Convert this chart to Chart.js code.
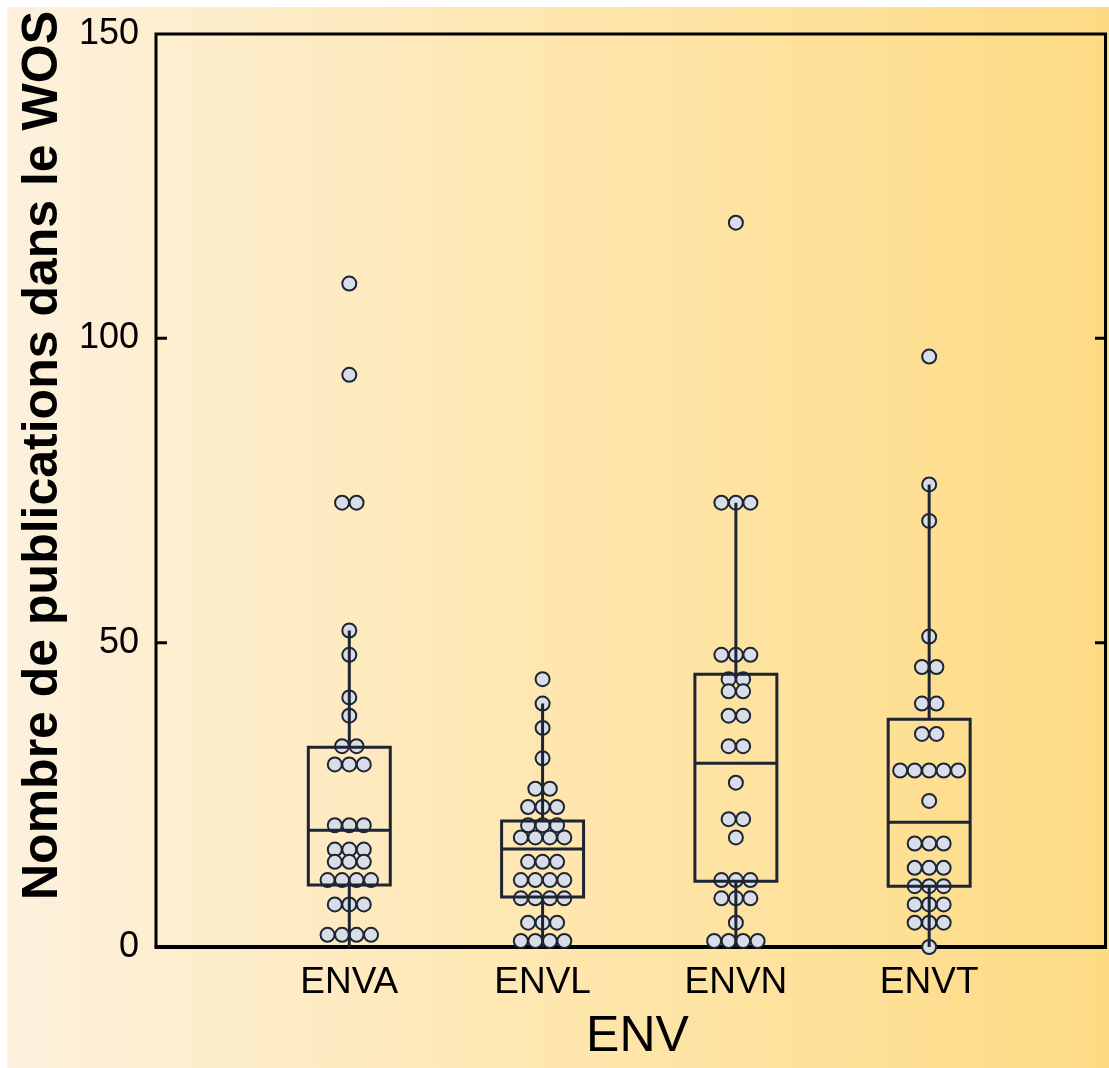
<!DOCTYPE html>
<html>
<head>
<meta charset="utf-8">
<script src="https://cdn.jsdelivr.net/npm/chart.js@4.4.1/dist/chart.umd.min.js"></script>
<style>
html,body{margin:0;padding:0;background:#fff;}
canvas{display:block;}
</style>
</head>
<body>
<canvas id="c" width="1109" height="1068"></canvas>
<script>
// ---- data ----
const categories = ['ENVA', 'ENVL', 'ENVN', 'ENVT'];
const valuesENVA = [109, 94, 73, 73, 52, 48, 41, 38, 33, 33, 30, 30, 30, 20, 20, 20, 16, 16, 16, 14, 14, 14, 11, 11, 11, 11, 7, 7, 7, 2, 2, 2, 2];
const valuesENVL = [44, 40, 36, 31, 26, 26, 23, 23, 23, 20, 20, 20, 18, 18, 18, 18, 14, 14, 14, 11, 11, 11, 11, 8, 8, 8, 8, 4, 4, 4, 1, 1, 1, 1];
const valuesENVN = [119, 73, 73, 73, 48, 48, 48, 44, 44, 42, 42, 38, 38, 33, 33, 27, 21, 21, 18, 11, 11, 11, 8, 8, 8, 4, 1, 1, 1, 1];
const valuesENVT = [97, 76, 70, 51, 46, 46, 40, 40, 35, 35, 29, 29, 29, 29, 29, 24, 17, 17, 17, 13, 13, 13, 10, 10, 10, 7, 7, 7, 4, 4, 4, 0];
const q1 = [10.2, 8.2, 10.8, 10.0];
const median = [19.2, 16.1, 30.2, 20.5];
const q3 = [32.8, 20.7, 44.8, 37.4];
const whiskerLow = [0, 0, 0, 0];
const whiskerHigh = [52, 40, 73, 76];
const yTicks = [0, 50, 100, 150];
const xTitle = 'ENV';
const yTitle = 'Nombre de publications dans le WOS';

// ---- layout helpers (style only) ----
const FONT = '"Liberation Sans", Arial, Helvetica, sans-serif';
const INK = '#1d2532';
const DOT_FILL = '#d8dde8';
const DOT_GAP = 0.075;     // horizontal gap between stacked dots, in x-axis units
const BOX_HALF = 0.212;    // half box width, in x-axis units

const groups = [valuesENVA, valuesENVL, valuesENVN, valuesENVT];

// beeswarm-style stacking: equal values side by side, centred on the category
function swarm(values, catIndex) {
  const counts = {};
  values.forEach(v => { counts[v] = (counts[v] || 0) + 1; });
  const seen = {};
  return values.map(v => {
    const i = seen[v] || 0; seen[v] = i + 1;
    const n = counts[v];
    return { x: catIndex + 1 + (i - (n - 1) / 2) * DOT_GAP, y: v };
  });
}

const datasets = groups.map((vals, k) => ({
  label: categories[k],
  data: swarm(vals, k),
  pointRadius: 7,
  pointHoverRadius: 7,
  pointBackgroundColor: DOT_FILL,
  pointBorderColor: INK,
  pointBorderWidth: 2,
  showLine: false,
  clip: false
}));

const backgroundPlugin = {
  id: 'bg',
  beforeDraw(chart) {
    const ctx = chart.ctx;
    ctx.save();
    ctx.fillStyle = '#ffffff';
    ctx.fillRect(0, 0, chart.width, chart.height);
    const g = ctx.createLinearGradient(7, 0, chart.width, 0);
    g.addColorStop(0, '#fdf1dd');
    g.addColorStop(0.5, '#fee6ae');
    g.addColorStop(1, '#fddb84');
    ctx.fillStyle = g;
    ctx.fillRect(7, 7, chart.width - 7, chart.height - 7);
    ctx.restore();
  },
  afterLayout(chart) {
    const ys = chart.scales.y, xs = chart.scales.x;
    if (!ys._titlePatched) {
      const orig = ys.drawTitle;
      ys.drawTitle = function () {
        const c = this.ctx; c.save(); c.translate(0, -35); orig.apply(this, arguments); c.restore();
      };
      ys._titlePatched = true;
    }
    if (!xs._titlePatched) {
      const origX = xs.drawTitle;
      xs.drawTitle = function () {
        const c = this.ctx; c.save(); c.translate(6, 0); origX.apply(this, arguments); c.restore();
      };
      xs._titlePatched = true;
    }
  },
  beforeDatasetsDraw(chart) {
    const { ctx, chartArea: a, scales } = chart;
    const ys = scales.y;
    ctx.save();
    ctx.strokeStyle = '#000';
    ctx.lineCap = 'butt';
    ctx.lineWidth = 3;
    ctx.beginPath();
    ctx.moveTo(a.left, a.top); ctx.lineTo(a.right, a.top);
    ctx.moveTo(a.left, a.top - 1.5); ctx.lineTo(a.left, a.bottom);
    ctx.moveTo(a.right - 1.5, a.top - 1.5); ctx.lineTo(a.right - 1.5, a.bottom);
    ctx.stroke();
    ctx.lineWidth = 4;
    ctx.beginPath();
    ctx.moveTo(a.left - 1.5, a.bottom); ctx.lineTo(a.right, a.bottom);
    ctx.stroke();
    ctx.lineWidth = 3;
    ctx.beginPath();
    yTicks.forEach(t => {
      if (t === 0 || t === 150) return;
      const py = ys.getPixelForValue(t);
      ctx.moveTo(a.left, py); ctx.lineTo(a.left + 11, py);
      ctx.moveTo(a.right - 12, py); ctx.lineTo(a.right, py);
    });
    ctx.stroke();
    ctx.restore();
  },
  afterDatasetsDraw(chart) {
    const { ctx, scales } = chart;
    const xs = scales.x, ys = scales.y;
    ctx.save();
    ctx.strokeStyle = INK;
    ctx.lineWidth = 3;
    categories.forEach((c, k) => {
      const cx = xs.getPixelForValue(k + 1);
      const l = xs.getPixelForValue(k + 1 - BOX_HALF);
      const r = xs.getPixelForValue(k + 1 + BOX_HALF);
      const yq1 = ys.getPixelForValue(q1[k]);
      const yq3 = ys.getPixelForValue(q3[k]);
      const ym = ys.getPixelForValue(median[k]);
      const yl = ys.getPixelForValue(whiskerLow[k]);
      const yh = ys.getPixelForValue(whiskerHigh[k]);
      ctx.beginPath();
      ctx.rect(l, yq3, r - l, yq1 - yq3);
      ctx.moveTo(l, ym); ctx.lineTo(r, ym);
      ctx.moveTo(cx, yq3); ctx.lineTo(cx, yh);
      ctx.moveTo(cx, yq1); ctx.lineTo(cx, yl);
      ctx.stroke();
    });
    ctx.restore();
  }
};

new Chart(document.getElementById('c'), {
  type: 'scatter',
  data: { datasets },
  options: {
    responsive: false,
    animation: false,
    events: [],
    layout: { autoPadding: false, padding: { top: 34, right: 2, left: 8, bottom: 0 } },
    plugins: { legend: { display: false }, tooltip: { enabled: false } },
    scales: {
      x: {
        type: 'linear',
        min: 0,
        max: 4.92,
        grid: { display: false, drawTicks: false },
        border: { display: false },
        afterBuildTicks(scale) { scale.ticks = categories.map((c, i) => ({ value: i + 1 })); },
        afterFit(scale) { scale.height = 121; scale.paddingLeft = 0; scale.paddingRight = 0; },
        ticks: {
          padding: 14,
          color: '#000',
          font: { family: FONT, size: 37 },
          maxRotation: 0,
          autoSkip: false,
          callback: (v) => categories[v - 1] || ''
        },
        title: {
          display: true,
          text: xTitle,
          color: '#000',
          font: { family: FONT, size: 50 },
          padding: { top: 0, bottom: 1 }
        }
      },
      y: {
        type: 'linear',
        min: 0,
        max: 150,
        grid: { display: false, drawTicks: false },
        border: { display: false },
        afterBuildTicks(scale) { scale.ticks = yTicks.map(v => ({ value: v })); },
        afterFit(scale) { scale.width = 148; scale.paddingTop = 0; scale.paddingBottom = 0; },
        ticks: {
          padding: 17,
          color: '#000',
          font: { family: FONT, size: 36 },
          callback: (v) => String(v)
        },
        title: {
          display: true,
          text: yTitle,
          color: '#000',
          font: { family: FONT, size: 50, weight: 'bold' },
          padding: { top: 5, bottom: 0 }
        }
      }
    }
  },
  plugins: [backgroundPlugin]
});
</script>
</body>
</html>
